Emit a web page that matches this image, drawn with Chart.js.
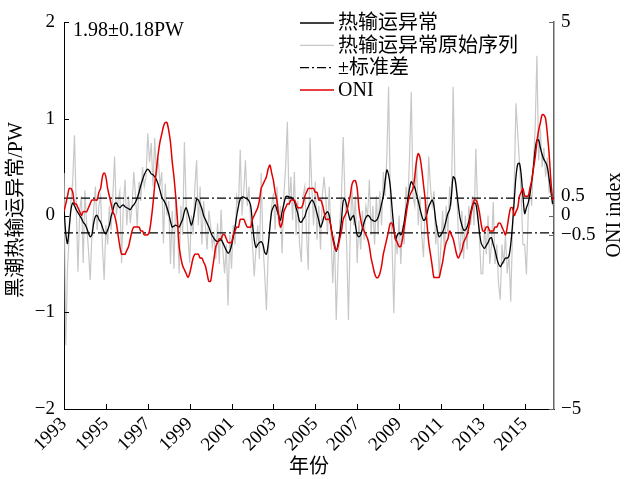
<!DOCTYPE html>
<html>
<head>
<meta charset="utf-8">
<title>黑潮热输运异常与ONI</title>
<script src="https://cdn.jsdelivr.net/npm/chart.js@4.4.0/dist/chart.umd.min.js"></script>
<style>
  html, body { margin: 0; padding: 0; background: #fff; }
</style>
</head>
<body>
<canvas id="chart" width="626" height="479"></canvas>
<script>
// 逐月数据，起点 1993 年 1 月，终点 2016 年 5 月
const startYear = 1993;
const endYear = 2016.4;
const yearTicks = [1993, 1995, 1997, 1999, 2001, 2003, 2005, 2007, 2009, 2011, 2013, 2015];
const leftTicks = [-2, -1, 0, 1, 2];
const rightTicks = [-5, -0.5, 0, 0.5, 5];
const stdDev = 0.18;

// 热输运异常（平滑后）
const transportSmooth = [
  0.08, -0.18, -0.29, -0.12, 0.06, 0.13, 0.10, 0.06, 0.03, 0.00, -0.03, -0.07,
  -0.09, -0.13, -0.18, -0.22, -0.20, -0.08, -0.01, 0.00, -0.04, -0.07, -0.12, -0.17,
  -0.19, -0.15, -0.10, -0.01, 0.05, 0.12, 0.13, 0.10, 0.08, 0.10, 0.11, 0.09,
  0.08, 0.07, 0.06, 0.09, 0.11, 0.14, 0.18, 0.24, 0.31, 0.37, 0.42, 0.46,
  0.48, 0.46, 0.43, 0.42, 0.40, 0.37, 0.32, 0.26, 0.19, 0.16, 0.13, 0.08,
  0.02, -0.06, -0.12, -0.11, -0.10, -0.11, -0.12, -0.08, -0.04, 0.04, 0.08, 0.03,
  -0.04, -0.10, -0.04, 0.06, 0.17, 0.16, 0.12, 0.07, 0.00, -0.04, -0.08, -0.12,
  -0.17, -0.21, -0.24, -0.26, -0.27, -0.26, -0.25, -0.28, -0.32, -0.36, -0.39, -0.37,
  -0.31, -0.22, -0.12, 0.00, 0.10, 0.17, 0.19, 0.19, 0.18, 0.17, 0.15, 0.10,
  -0.08, -0.25, -0.33, -0.30, -0.28, -0.27, -0.30, -0.38, -0.40, -0.30, -0.12, 0.04,
  0.09, 0.11, 0.06, 0.00, -0.05, 0.04, 0.12, 0.19, 0.20, 0.19, 0.19, 0.17,
  0.15, 0.08, 0.02, -0.06, -0.07, -0.04, -0.01, 0.05, 0.09, 0.13, 0.16, 0.14,
  0.09, 0.02, -0.05, -0.12, -0.08, -0.01, 0.02, 0.04, 0.00, -0.12, -0.22, -0.30,
  -0.37, -0.30, -0.20, -0.05, 0.15, 0.17, 0.10, 0.02, -0.05, -0.02, 0.00, -0.10,
  -0.20, -0.22, -0.20, -0.14, -0.07, -0.02, 0.00, -0.01, -0.04, -0.05, -0.06, -0.05,
  -0.02, 0.04, 0.12, 0.20, 0.35, 0.47, 0.42, 0.30, 0.08, -0.12, -0.25, -0.20,
  -0.18, -0.20, -0.16, -0.06, 0.06, 0.16, 0.28, 0.35, 0.32, 0.29, 0.22, 0.15,
  0.07, 0.00, -0.05, -0.04, 0.02, 0.09, 0.13, 0.16, 0.10, -0.05, -0.16, -0.22,
  -0.20, -0.17, -0.12, -0.05, 0.02, 0.06, 0.20, 0.40, 0.38, 0.25, 0.10, -0.03,
  -0.10, -0.15, -0.15, -0.12, -0.06, 0.03, 0.10, 0.13, 0.12, 0.00, -0.16, -0.28,
  -0.32, -0.34, -0.31, -0.28, -0.24, -0.23, -0.30, -0.36, -0.44, -0.50, -0.53, -0.50,
  -0.47, -0.44, -0.44, -0.42, -0.30, -0.10, 0.15, 0.40, 0.53, 0.54, 0.42, 0.20,
  0.02, 0.08, 0.13, 0.22, 0.35, 0.50, 0.68, 0.78, 0.78, 0.70, 0.63, 0.58,
  0.55, 0.50, 0.38, 0.25, 0.12
];

// 热输运异常原始序列
const transportRaw = [
  0.44, -1.34, -0.55, -0.20, 0.15, 0.35, 0.83, 0.10, -0.58, 0.05, 0.20, -0.49,
  0.26, -0.10, -0.35, -0.67, -0.20, 0.05, 0.30, -0.15, 0.10, 0.20, -0.30, -0.67,
  -0.10, -0.30, 0.10, -0.15, 0.20, 0.61, 0.00, 0.15, 0.25, -0.49, 0.10, 0.37,
  -0.10, 0.20, -0.08, 0.10, 0.45, 0.20, -0.12, 0.35, 0.15, 0.50, 0.30, 0.40,
  0.85, 0.55, 0.75, 0.30, 0.80, 0.40, 0.60, 0.30, 0.45, -0.29, 0.33, 0.00,
  0.15, -0.50, 0.05, -0.55, 0.20, -0.10, -0.60, 0.10, -0.20, 0.76, 0.10, -0.20,
  -0.49, 0.00, -0.20, 0.30, 0.57, -0.10, 0.30, -0.30, 0.15, -0.10, -0.35, 0.05,
  -0.10, -0.32, -0.20, -0.45, -0.08, -0.50, 0.06, -0.35, -0.60, -0.30, -0.93, -0.20,
  -0.55, -0.10, -0.30, 0.20, 0.10, 0.68, 0.00, 0.25, 0.57, 0.10, 0.30, -0.10,
  -0.30, -0.63, -0.35, -0.10, -0.45, 0.44, -0.30, -0.60, -0.98, -0.40, -0.10, 0.10,
  0.23, -0.15, 0.30, -0.10, 0.10, -0.39, 0.20, 0.50, 0.97, 0.10, 0.40, -0.05,
  0.45, -0.20, 0.15, -0.30, -0.48, 0.20, 0.30, -0.20, -0.56, 0.80, 0.30, -0.10,
  0.35, -0.25, 0.10, -0.35, 0.20, 0.40, 0.20, -0.20, 0.30, -0.20, -0.70, -0.20,
  -1.08, -0.50, -0.10, 0.20, 0.81, 0.20, -0.30, -1.08, -0.20, 0.30, -0.10, 0.20,
  -0.49, -0.05, -0.35, 0.05, -0.25, 0.10, 0.00, 0.37, -0.20, 0.10, -0.30, 0.20,
  -0.20, 0.25, -0.10, 0.45, 0.20, 0.60, 1.33, 0.20, -0.30, -1.01, -0.20, -0.40,
  0.00, -0.50, -0.10, -0.30, 0.30, 0.10, 0.60, 1.28, 0.20, 0.10, 0.61, -0.10,
  0.20, -0.20, -0.43, 0.10, 0.00, 0.61, 0.30, 0.10, 0.25, -0.30, -0.10, -0.63,
  -0.30, 0.05, -0.40, 0.10, -0.20, 0.30, 0.10, 1.33, 0.40, 0.30, -0.20, -0.40,
  0.05, -0.45, 0.00, -0.35, 0.10, -0.10, 0.20, -0.10, 0.69, 0.10, -0.20, -0.60,
  -0.60, -0.10, -0.40, 0.00, -0.50, -0.30, 0.14, -0.50, -0.30, -0.70, -0.87, -0.30,
  -0.50, -0.20, -0.60, -0.40, -0.89, -0.20, 0.30, 1.16, 0.85, 0.55, 0.20, -0.30,
  -0.30, -0.61, 0.00, 0.30, 0.10, 0.55, 0.90, 1.65, 0.57, 0.90, 0.50, 0.70,
  0.40, 0.60, 0.23, 0.35, 0.10
];

// ONI 指数（右轴）
const oni = [
  0.1, 0.3, 0.5, 0.7, 0.7, 0.6, 0.3, 0.3, 0.2, 0.1, 0.0, 0.1,
  0.1, 0.1, 0.2, 0.3, 0.4, 0.4, 0.4, 0.4, 0.6, 0.7, 1.0, 1.1,
  1.0, 0.7, 0.5, 0.3, 0.1, 0.0, -0.2, -0.5, -0.8, -1.0, -1.0, -1.0,
  -0.9, -0.8, -0.6, -0.4, -0.3, -0.3, -0.3, -0.3, -0.4, -0.4, -0.5, -0.5,
  -0.5, -0.4, -0.1, 0.3, 0.8, 1.2, 1.6, 1.9, 2.1, 2.3, 2.4, 2.4,
  2.2, 1.9, 1.4, 1.0, 0.5, -0.1, -0.8, -1.1, -1.3, -1.4, -1.5, -1.6,
  -1.5, -1.3, -1.1, -1.0, -1.0, -1.0, -1.1, -1.1, -1.2, -1.3, -1.5, -1.7,
  -1.7, -1.4, -1.1, -0.8, -0.7, -0.6, -0.6, -0.5, -0.5, -0.6, -0.7, -0.7,
  -0.7, -0.5, -0.4, -0.3, -0.3, -0.1, -0.1, -0.1, -0.2, -0.3, -0.3, -0.3,
  -0.1, 0.0, 0.1, 0.2, 0.4, 0.7, 0.8, 0.9, 1.0, 1.2, 1.3, 1.1,
  0.9, 0.6, 0.4, 0.0, -0.3, -0.2, 0.1, 0.2, 0.3, 0.3, 0.4, 0.4,
  0.4, 0.3, 0.2, 0.2, 0.2, 0.3, 0.5, 0.6, 0.7, 0.7, 0.7, 0.7,
  0.6, 0.6, 0.4, 0.4, 0.3, 0.1, -0.1, -0.1, -0.1, -0.3, -0.6, -0.8,
  -0.9, -0.8, -0.6, -0.4, -0.1, 0.0, 0.1, 0.3, 0.5, 0.8, 0.9, 0.9,
  0.7, 0.2, -0.1, -0.3, -0.4, -0.5, -0.6, -0.8, -1.1, -1.3, -1.5, -1.6,
  -1.6, -1.5, -1.3, -1.0, -0.8, -0.6, -0.4, -0.2, -0.2, -0.4, -0.6, -0.7,
  -0.8, -0.8, -0.6, -0.3, 0.0, 0.3, 0.5, 0.6, 0.7, 1.0, 1.4, 1.6,
  1.5, 1.2, 0.8, 0.4, -0.2, -0.7, -1.0, -1.3, -1.6, -1.6, -1.6, -1.6,
  -1.4, -1.2, -0.9, -0.7, -0.6, -0.4, -0.5, -0.6, -0.8, -1.0, -1.1, -1.0,
  -0.9, -0.7, -0.6, -0.5, -0.3, 0.0, 0.2, 0.4, 0.4, 0.3, 0.1, -0.2,
  -0.4, -0.4, -0.3, -0.3, -0.4, -0.4, -0.4, -0.3, -0.3, -0.2, -0.2, -0.3,
  -0.4, -0.5, -0.3, 0.0, 0.2, 0.2, 0.0, 0.1, 0.2, 0.5, 0.6, 0.7,
  0.5, 0.5, 0.5, 0.7, 0.9, 1.2, 1.5, 1.9, 2.2, 2.4, 2.6, 2.6,
  2.5, 2.1, 1.6, 0.9, 0.4
];

const FONT = "'Liberation Serif', 'Noto Sans CJK SC', serif";
const RED = '#e00000';
const GRAY = '#c8c8c8';
const DASH = [9, 3, 2, 3];

// 按月份换算成 {x: 年, y: 值}
function toPoints(values) {
    return values.map((v, i) => ({ x: startYear + i / 12, y: v }));
}

function minus(v) {
    return String(v).replace('-', '\u2212');
}

// 坐标轴刻度朝内
const innerTicks = {
    id: 'innerTicks',
    afterDraw(chart) {
        const { ctx, chartArea: a, scales } = chart;
        const len = 5;
        ctx.save();
        ctx.lineWidth = 1;
        ctx.strokeStyle = '#000';
        ctx.beginPath();
        yearTicks.forEach(v => {
            const px = Math.round(scales.x.getPixelForValue(v)) + 0.5;
            ctx.moveTo(px, a.bottom);
            ctx.lineTo(px, a.bottom - len);
        });
        leftTicks.forEach(v => {
            const py = Math.round(scales.y.getPixelForValue(v)) + 0.5;
            ctx.moveTo(a.left, py);
            ctx.lineTo(a.left + len, py);
        });
        ctx.stroke();
        ctx.strokeStyle = '#666';
        ctx.beginPath();
        rightTicks.forEach(v => {
            const py = Math.round(scales.y2.getPixelForValue(v)) + 0.5;
            ctx.moveTo(a.right, py);
            ctx.lineTo(a.right - len, py);
        });
        ctx.stroke();
        ctx.restore();
    }
};

// 轴标题、图例和注释文字
const labels = {
    id: 'labels',
    afterDraw(chart) {
        const ctx = chart.ctx;
        ctx.save();
        ctx.fillStyle = '#000';
        ctx.font = '20px ' + FONT;

        ctx.textAlign = 'left';
        ctx.textBaseline = 'alphabetic';
        ctx.fillText('1.98\u00b10.18PW', 73, 36);

        ctx.textAlign = 'center';
        ctx.textBaseline = 'middle';
        ctx.fillText('年份', 309, 468);

        ctx.save();
        ctx.translate(17, 210);
        ctx.rotate(-Math.PI / 2);
        ctx.fillText('黑潮热输运异常/PW', 0, 0);
        ctx.restore();

        ctx.save();
        ctx.translate(615, 215);
        ctx.rotate(-Math.PI / 2);
        ctx.fillText('ONI index', 0, 0);
        ctx.restore();

        // 图例
        const rows = [
            { text: '热输运异常', color: '#000', width: 1.3, dash: [] },
            { text: '热输运异常原始序列', color: GRAY, width: 1.3, dash: [] },
            { text: '\u00b1标准差', color: '#000', width: 1.3, dash: DASH },
            { text: 'ONI', color: RED, width: 1.5, dash: [] }
        ];
        ctx.textAlign = 'left';
        rows.forEach((r, i) => {
            const y = 23 + i * 22.3;
            ctx.beginPath();
            ctx.setLineDash(r.dash);
            ctx.strokeStyle = r.color;
            ctx.lineWidth = r.width;
            ctx.moveTo(300, y);
            ctx.lineTo(334, y);
            ctx.stroke();
            ctx.setLineDash([]);
            ctx.fillText(r.text, 338, y + 1);
        });
        ctx.restore();
    }
};

const tickFont = { family: FONT, size: 19 };

new Chart(document.getElementById('chart'), {
    type: 'line',
    data: {
        datasets: [
            {
                data: toPoints(transportRaw),
                borderColor: GRAY, borderWidth: 1.2,
                yAxisID: 'y', order: 4
            },
            {
                data: [{ x: startYear, y: stdDev }, { x: endYear, y: stdDev }],
                borderColor: '#000', borderWidth: 1.4, borderDash: DASH,
                yAxisID: 'y', order: 3
            },
            {
                data: [{ x: startYear, y: -stdDev }, { x: endYear, y: -stdDev }],
                borderColor: '#000', borderWidth: 1.4, borderDash: DASH,
                yAxisID: 'y', order: 3
            },
            {
                data: toPoints(transportSmooth),
                borderColor: '#000', borderWidth: 1.3, tension: 0.3,
                yAxisID: 'y', order: 2
            },
            {
                data: toPoints(oni),
                borderColor: RED, borderWidth: 1.5, tension: 0.3,
                yAxisID: 'y2', order: 1
            }
        ]
    },
    options: {
        responsive: false,
        devicePixelRatio: 1,
        animation: false,
        elements: { point: { radius: 0 } },
        layout: { padding: { top: 22, right: 0, bottom: 0, left: 0 } },
        plugins: { legend: { display: false }, tooltip: { enabled: false } },
        scales: {
            x: {
                type: 'linear',
                min: startYear,
                max: endYear,
                afterBuildTicks: s => { s.ticks = yearTicks.map(v => ({ value: v })); },
                afterFit: s => { s.height = 70; },
                grid: { display: false, drawTicks: false, tickLength: 0 },
                border: { display: true, color: '#000', width: 1 },
                ticks: {
                    autoSkip: false, maxRotation: 45, minRotation: 45,
                    padding: 4, color: '#000', font: tickFont,
                    callback: v => String(v)
                }
            },
            y: {
                position: 'left',
                min: -2, max: 2,
                afterBuildTicks: s => { s.ticks = leftTicks.map(v => ({ value: v })); },
                afterFit: s => { s.width = 64; },
                grid: { display: false, drawTicks: false, tickLength: 0 },
                border: { display: true, color: '#000', width: 1 },
                ticks: { padding: 9, color: '#000', font: tickFont, callback: v => minus(v) }
            },
            y2: {
                position: 'right',
                min: -5, max: 5,
                afterBuildTicks: s => { s.ticks = rightTicks.map(v => ({ value: v })); },
                afterFit: s => { s.width = 72; },
                grid: { display: false, drawTicks: false, tickLength: 0 },
                border: { display: true, color: '#666', width: 1.5 },
                ticks: { padding: 7, color: '#000', font: tickFont, callback: v => minus(v) }
            }
        }
    },
    plugins: [innerTicks, labels]
});
</script>
</body>
</html>
